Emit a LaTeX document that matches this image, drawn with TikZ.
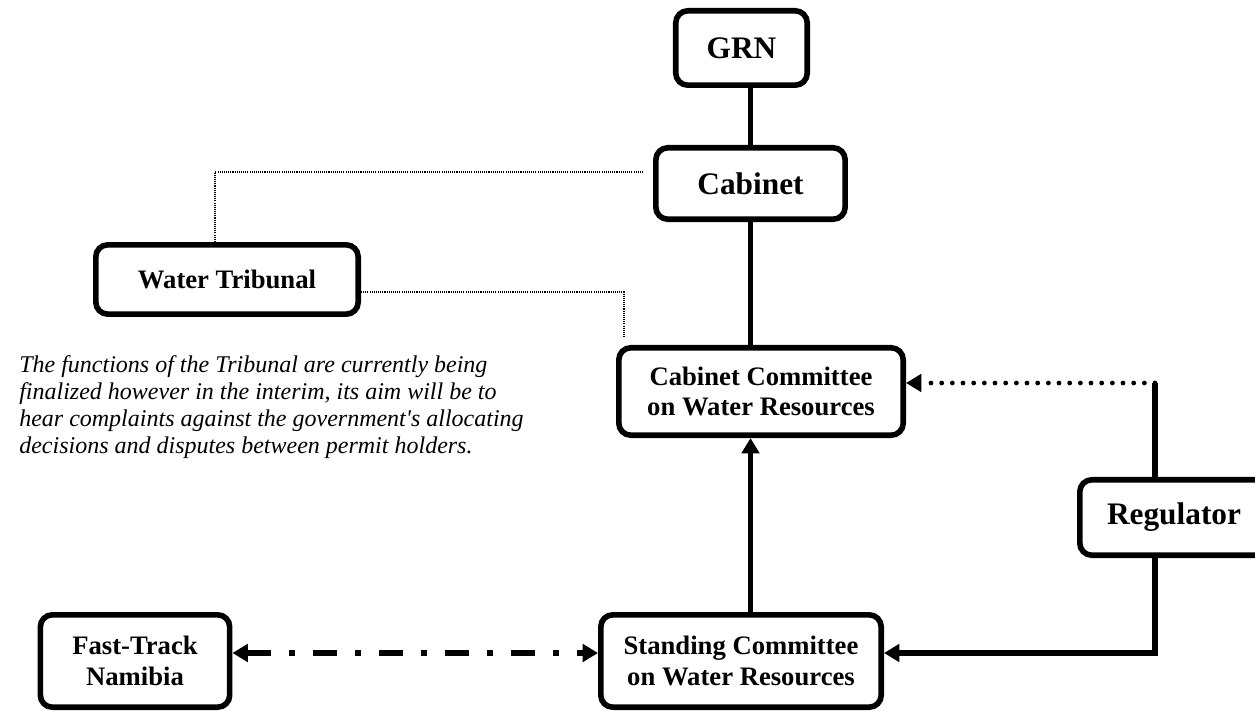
\documentclass[tikz,border=0pt]{standalone}
\usepackage{fontspec}
\setmainfont{Liberation Serif}
\usetikzlibrary{arrows.meta}
\tikzset{
  box/.style={draw, line width=4.2pt, rounded corners=9pt, inner sep=0pt, align=center, fill=white, font=\bfseries\fontsize{20}{23}\selectfont},
  bigbox/.style={box, font=\bfseries\fontsize{23.5}{27}\selectfont},
  conn/.style={line width=4.2pt},
  tip/.style={-{Triangle[length=11.5pt,width=13pt]}},
  thindot/.style={line width=0.9pt, dash pattern=on 0.8pt off 0.8pt},
  bigdot/.style={line width=3.6pt, line cap=round, dash pattern=on 0pt off 8pt},
  dashdot/.style={line width=5pt, dash pattern=on 18pt off 13.5pt on 4.5pt off 13.5pt},
}
\begin{document}
\begin{tikzpicture}[x=0.75pt,y=-0.75pt]
\useasboundingbox (0,0) rectangle (1255,712);
% nodes
\node[bigbox, minimum width=98.6pt, minimum height=55.8pt] (grn) at (741.5,48) {GRN};
\node[bigbox, minimum width=142pt, minimum height=53.6pt] (cab) at (750.5,183.5) {Cabinet};
\node[box, minimum width=196.8pt, minimum height=52pt] (wt) at (227,279.5) {Water Tribunal};
\node[box, minimum width=213.3pt, minimum height=65.6pt] (ccw) at (761,391.5) {Cabinet Committee\\on Water Resources};
\node[bigbox, minimum width=141.3pt, minimum height=56.6pt] (reg) at (1174,517.5) {Regulator};
\node[box, minimum width=210.3pt, minimum height=69.3pt] (scw) at (741,661) {Standing Committee\\on Water Resources};
\node[box, minimum width=142pt, minimum height=69.3pt] (ftn) at (135,661) {Fast-Track\\Namibia};
\node[anchor=north west, inner sep=0pt, align=left, font=\itshape\fontsize{18}{20.25}\selectfont] (note) at (19,355)
  {The functions of the Tribunal are currently being\\
   finalized however in the interim, its aim will be to\\
   hear complaints against the government\textquotesingle s allocating\\
   decisions and disputes between permit holders.};
% helper coordinates
\coordinate (rc) at (1155,383);
\coordinate (low) at (1155,653);
\coordinate (t1) at (215,172);
\coordinate (t1e) at (644,172);
\coordinate (t2) at (624,292);
\coordinate (t2e) at (624,337);
% connectors
\draw[conn] (cab.north |- grn.south) -- (cab.north);
\draw[conn] (cab.south) -- (cab.south |- ccw.north);
\draw[conn, tip] (cab.south |- scw.north) -- (cab.south |- ccw.south);
\draw[conn] (reg.north -| rc) -- (rc);
\draw[bigdot, tip] (rc) -- (ccw.east |- rc);
\draw[conn, tip] (reg.south -| rc) -- (low) -- (scw.east |- low);
\draw[dashdot, {Triangle[length=11.5pt,width=13pt]}-{Triangle[length=11.5pt,width=13pt]}] (ftn.east |- low) -- (scw.west |- low);
\draw[thindot] (wt.north -| t1) -- (t1) -- (t1e);
\draw[thindot] (wt.east |- t2) -- (t2) -- (t2e);
\end{tikzpicture}
\end{document}
